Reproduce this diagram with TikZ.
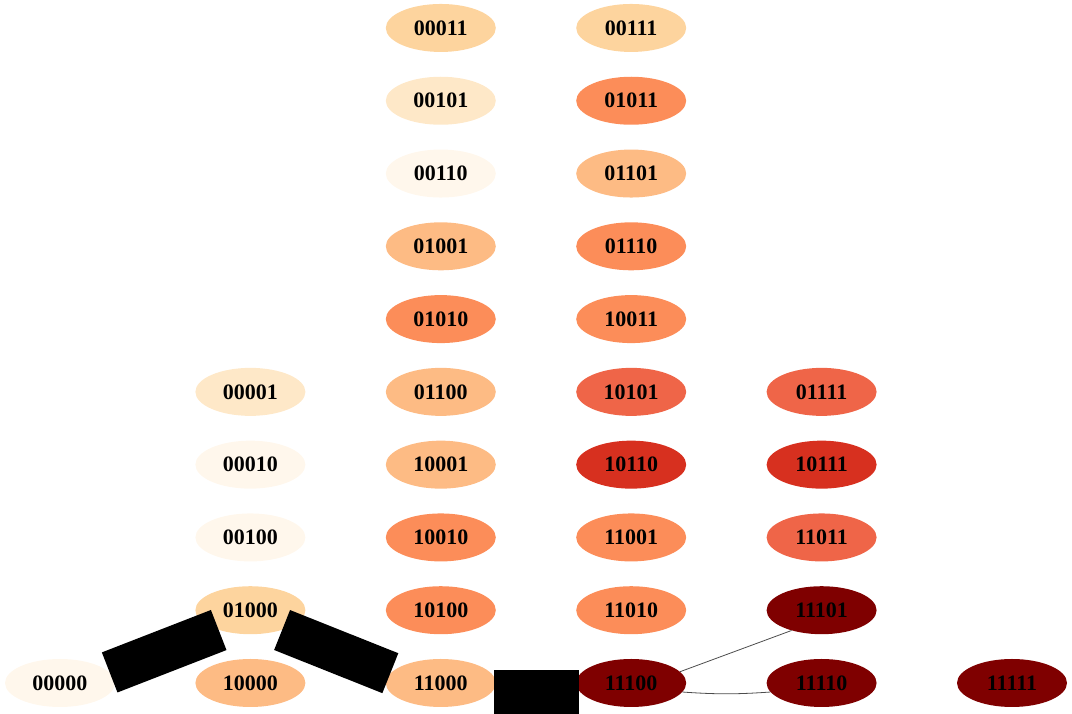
\documentclass[tikz,border=0pt]{standalone}
\usepackage{fontspec}
\setmainfont{Liberation Serif}
\usepackage{tikz}
\usetikzlibrary{shapes.geometric}
\definecolor{pale}{HTML}{FFF7EC}
\definecolor{cream}{HTML}{FEE8C8}
\definecolor{sand}{HTML}{FDD49E}
\definecolor{peach}{HTML}{FDBB84}
\definecolor{coral}{HTML}{FC8D59}
\definecolor{salmon}{HTML}{EF6548}
\definecolor{scarlet}{HTML}{D7301F}
\definecolor{maroon}{HTML}{7F0000}
\tikzset{state/.style={ellipse,draw=none,minimum width=110pt,minimum height=48pt,inner sep=0pt,font=\fontsize{22}{25}\selectfont\bfseries},heavy/.style={line width=43pt,draw=black},light/.style={line width=0.8pt,draw=black!70}}

\begin{document}
\begin{tikzpicture}[x=1pt,y=1pt]
\useasboundingbox (-60,-31) rectangle (1012,683);
\foreach \name/\c/\r/\shade in {00000/0/0/pale,
  00001/1/4/cream,00010/1/3/pale,00100/1/2/pale,01000/1/1/sand,10000/1/0/peach,
  00011/2/9/sand,00101/2/8/cream,00110/2/7/pale,01001/2/6/peach,01010/2/5/coral,
  01100/2/4/peach,10001/2/3/peach,10010/2/2/coral,10100/2/1/coral,11000/2/0/peach,
  00111/3/9/sand,01011/3/8/coral,01101/3/7/peach,01110/3/6/coral,10011/3/5/coral,
  10101/3/4/salmon,10110/3/3/scarlet,11001/3/2/coral,11010/3/1/coral,11100/3/0/maroon,
  01111/4/4/salmon,10111/4/3/scarlet,11011/4/2/salmon,11101/4/1/maroon,11110/4/0/maroon,
  11111/5/0/maroon}
  \node[state,fill=\shade] (n\name) at (\c*190.4,\r*72.78) {\name};
% weighted edges
\draw[heavy](n00000.12)--(n01000.212);\draw[heavy](n01000.328)--(n11000.169);
\draw[heavy,line width=90pt]([shift={(-2,-32)}]n11000.east)--([shift={(3,-32)}]n11100.west);
\draw[light](n11100.13)--(n11101.214);\draw[light](n11100.350) to[bend right=4] (n11110.190);
\end{tikzpicture}
\end{document}
